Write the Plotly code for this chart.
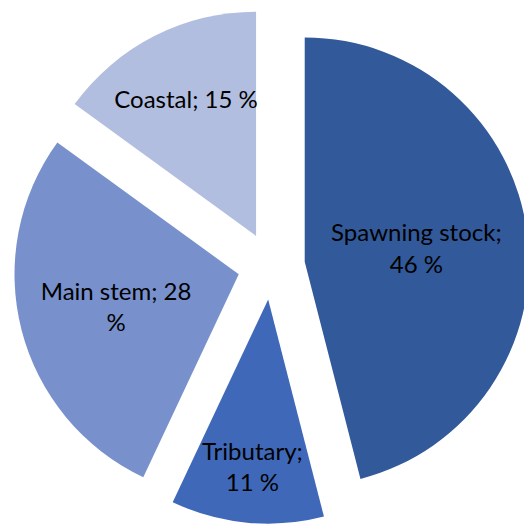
import plotly.graph_objects as go

labels = ["Spawning stock", "Tributary", "Main stem", "Coastal"]
values = [46, 11, 28, 15]
# where each label breaks onto a second line
label_text = ["Spawning stock;<br>46 %", "Tributary;<br>11 %", "Main stem; 28<br>%", "Coastal; 15 %"]

colors = ["#32599A", "#3F69B8", "#7891CD", "#B2BEDF"]

fig = go.Figure(data=[go.Pie(
    labels=labels,
    values=values,
    text=label_text,
    textinfo="text",
    textposition="inside",
    insidetextorientation="horizontal",
    textfont=dict(family="Lato, Open Sans, sans-serif", size=24, color="black"),
    marker=dict(colors=colors, line=dict(width=0)),
    pull=[0.15, 0.15, 0.15, 0.15],
    sort=False,
    direction="clockwise",
    rotation=0,
    domain=dict(x=[0, 0.99], y=[0.025, 1]),
    hoverinfo="label+value",
)])

fig.update_layout(
    width=532,
    height=529,
    showlegend=False,
    margin=dict(l=0, r=0, t=0, b=0),
    paper_bgcolor="white",
    plot_bgcolor="white",
    uniformtext=dict(mode="show", minsize=24),
)

fig.write_html("out.html")
